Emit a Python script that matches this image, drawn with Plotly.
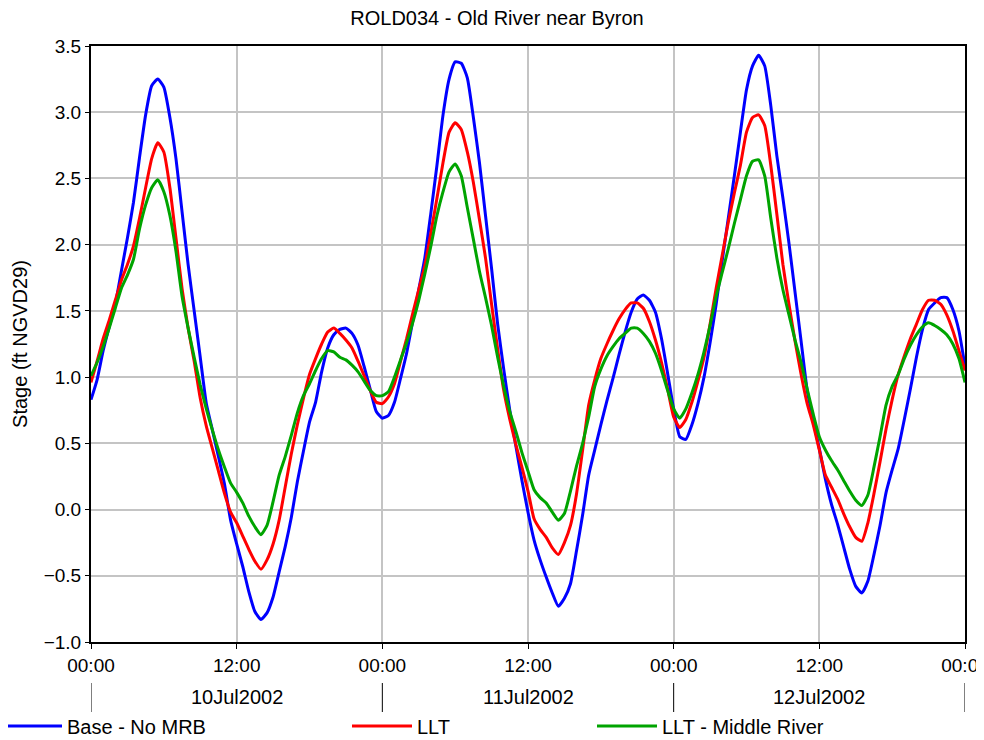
import pandas as pd
import plotly.graph_objects as go

# ---- data (half-hourly stage, ft NGVD29) ----
start_time = "2002-07-10 00:00"
hours = [i * 0.5 for i in range(145)]

base_no_mrb = [
    0.83, 0.98, 1.20, 1.38, 1.55, 1.80, 2.05, 2.32, 2.66, 2.98,
    3.20, 3.25, 3.19, 2.96, 2.65, 2.25, 1.85, 1.50, 1.15, 0.80,
    0.60, 0.40, 0.19, -0.08, -0.26, -0.43, -0.62, -0.77, -0.83, -0.78,
    -0.66, -0.47, -0.28, -0.06, 0.21, 0.44, 0.66, 0.81, 1.04, 1.22,
    1.32, 1.36, 1.37, 1.33, 1.24, 1.08, 0.91, 0.74, 0.69, 0.71,
    0.81, 0.99, 1.18, 1.42, 1.66, 1.90, 2.24, 2.60, 2.98, 3.25,
    3.38, 3.37, 3.26, 2.96, 2.62, 2.22, 1.82, 1.40, 1.06, 0.75,
    0.48, 0.22, -0.02, -0.23, -0.38, -0.51, -0.63, -0.73, -0.67, -0.56,
    -0.31, -0.04, 0.26, 0.45, 0.64, 0.82, 0.99, 1.17, 1.34, 1.49,
    1.59, 1.62, 1.58, 1.49, 1.29, 1.03, 0.76, 0.55, 0.53, 0.64,
    0.80, 1.00, 1.26, 1.55, 1.88, 2.20, 2.52, 2.85, 3.17, 3.35,
    3.43, 3.35, 3.05, 2.67, 2.35, 2.01, 1.64, 1.27, 0.90, 0.67,
    0.46, 0.23, 0.04, -0.11, -0.28, -0.45, -0.58, -0.63, -0.54, -0.34,
    -0.12, 0.13, 0.30, 0.46, 0.68, 0.91, 1.15, 1.36, 1.51, 1.56,
    1.60, 1.60, 1.51, 1.35, 1.08,
]

llt = [
    0.96, 1.12, 1.29, 1.43, 1.58, 1.73, 1.85, 1.99, 2.20, 2.43,
    2.65, 2.77, 2.70, 2.43, 2.05, 1.67, 1.37, 1.12, 0.84, 0.63,
    0.46, 0.29, 0.12, -0.02, -0.10, -0.20, -0.30, -0.39, -0.45, -0.38,
    -0.26, -0.08, 0.17, 0.42, 0.64, 0.84, 1.02, 1.14, 1.25, 1.34,
    1.37, 1.33, 1.28, 1.22, 1.12, 1.01, 0.90, 0.81, 0.80, 0.85,
    0.95, 1.12, 1.29, 1.48, 1.66, 1.84, 2.09, 2.35, 2.62, 2.85,
    2.92, 2.87, 2.70, 2.47, 2.19, 1.90, 1.55, 1.21, 0.90, 0.68,
    0.49, 0.32, 0.14, -0.07, -0.15, -0.21, -0.29, -0.34, -0.25, -0.12,
    0.12, 0.45, 0.79, 0.98, 1.14, 1.25, 1.35, 1.44, 1.51, 1.56,
    1.56, 1.52, 1.42, 1.28, 1.11, 0.91, 0.70, 0.62, 0.68, 0.81,
    0.97, 1.15, 1.40, 1.67, 1.92, 2.17, 2.39, 2.60, 2.85, 2.96,
    2.98, 2.90, 2.60, 2.23, 1.85, 1.55, 1.27, 1.02, 0.80, 0.64,
    0.45, 0.26, 0.17, 0.08, -0.03, -0.13, -0.21, -0.24, -0.10, 0.12,
    0.36, 0.61, 0.83, 1.02, 1.16, 1.29, 1.40, 1.51, 1.58, 1.58,
    1.55, 1.47, 1.35, 1.20, 1.05,
]

llt_middle_river = [
    1.01, 1.11, 1.23, 1.37, 1.52, 1.67, 1.77, 1.89, 2.12, 2.30,
    2.43, 2.49, 2.40, 2.22, 1.95, 1.61, 1.37, 1.15, 0.94, 0.76,
    0.60, 0.45, 0.32, 0.20, 0.13, 0.05, -0.05, -0.13, -0.19, -0.12,
    0.06, 0.26, 0.40, 0.56, 0.73, 0.86, 0.95, 1.05, 1.14, 1.20,
    1.19, 1.15, 1.13, 1.09, 1.04, 0.97, 0.90, 0.86, 0.86, 0.89,
    1.00, 1.13, 1.26, 1.41, 1.58, 1.78, 1.99, 2.22, 2.40, 2.55,
    2.61, 2.52, 2.28, 2.04, 1.80, 1.60, 1.39, 1.15, 0.93, 0.74,
    0.59, 0.43, 0.29, 0.15, 0.09, 0.05, -0.02, -0.08, -0.03, 0.14,
    0.33, 0.50, 0.70, 0.93, 1.06, 1.16, 1.23, 1.29, 1.33, 1.37,
    1.37, 1.33, 1.27, 1.18, 1.05, 0.90, 0.76, 0.69, 0.76, 0.88,
    1.02, 1.19, 1.39, 1.61, 1.79, 1.97, 2.16, 2.34, 2.52, 2.63,
    2.64, 2.52, 2.20, 1.90, 1.66, 1.47, 1.28, 1.11, 0.91, 0.72,
    0.55, 0.45, 0.37, 0.30, 0.22, 0.14, 0.07, 0.03, 0.11, 0.32,
    0.55, 0.79, 0.93, 1.02, 1.14, 1.24, 1.32, 1.38, 1.41, 1.39,
    1.36, 1.32, 1.25, 1.14, 0.96,
]

series_names = ["Base - No MRB", "LLT", "LLT - Middle River"]
series_colors = ["#0000ff", "#ff0000", "#00a400"]
day_labels = ["10Jul2002", "11Jul2002", "12Jul2002"]
day_starts = ["2002-07-10", "2002-07-11", "2002-07-12", "2002-07-13"]
day_mids = ["2002-07-10 12:00", "2002-07-11 12:00", "2002-07-12 12:00"]

t0 = pd.Timestamp(start_time)
times = [t0 + pd.Timedelta(hours=h) for h in hours]

FONT = "Arial, Liberation Sans, sans-serif"

fig = go.Figure()
legend_ids = ["legend", "legend2", "legend3"]
for name, vals, col, lg in zip(series_names, [base_no_mrb, llt, llt_middle_river],
                               series_colors, legend_ids):
    fig.add_trace(go.Scatter(
        x=times, y=vals, mode="lines", name=name, legend=lg,
        line=dict(color=col, width=3, shape="spline", smoothing=0.5),
    ))

# The page body adds an 8px offset, so the figure is 976x732 and the
# target plot area (window px 91..965 x 46..642) is expressed in figure px.
OFF = 8
W, H = 984 - OFF, 740 - OFF
L, R, T, B = 91 - OFF, 19, 46 - OFF, 98
pw, ph = W - L - R, H - T - B


def px2x(px):  # window px -> x paper
    return (px - OFF - L) / pw


def py2y(py):  # window px -> y paper
    return (H - B - (py - OFF)) / ph


legend_pos = [-3, 347, 592]
legend_common = dict(orientation="h", xanchor="left", yanchor="middle",
                     y=py2y(726), bgcolor="rgba(0,0,0,0)",
                     font=dict(family=FONT, size=20, color="black"),
                     itemwidth=60, tracegroupgap=0)
legends = {}
for lg, xp in zip(legend_ids, legend_pos):
    legends[lg] = dict(x=px2x(xp), **legend_common)

shapes = []
for d in day_starts:
    shapes.append(dict(type="line", xref="x", yref="paper", x0=d, x1=d,
                       y0=py2y(683), y1=py2y(712),
                       line=dict(color="black", width=1)))

annotations = []
for lab, m in zip(day_labels, day_mids):
    annotations.append(dict(x=m, y=py2y(697), xref="x", yref="paper", text=lab,
                            showarrow=False, xanchor="center", yanchor="middle",
                            font=dict(family=FONT, size=20, color="black")))

fig.update_layout(
    width=W, height=H,
    margin=dict(l=L, r=R, t=T, b=B, pad=0, autoexpand=False),
    paper_bgcolor="white", plot_bgcolor="white",
    title=dict(text="ROLD034 - Old River near Byron",
               x=(497 - OFF) / W, xanchor="center",
               y=1 - (18 - OFF) / H, yanchor="middle",
               font=dict(family=FONT, size=20, color="black")),
    showlegend=True,
    shapes=shapes,
    annotations=annotations,
    **legends,
)

fig.update_xaxes(
    type="date",
    range=["2002-07-10 00:00", "2002-07-13 00:00"],
    dtick=12 * 3600 * 1000, tick0="2002-07-10 00:00",
    tickformat="%H:%M", ticklabeloverflow="allow",
    showgrid=True, gridcolor="#c4c4c4", gridwidth=2,
    showline=True, linecolor="black", linewidth=2, mirror=True,
    ticks="outside", ticklen=5, tickcolor="black", tickwidth=1,
    tickfont=dict(family=FONT, size=19, color="black"),
    zeroline=False, automargin=False,
)
fig.update_yaxes(
    range=[-1.0, 3.5], dtick=0.5, tick0=0, tickformat=".1f",
    showgrid=True, gridcolor="#c4c4c4", gridwidth=2,
    showline=True, linecolor="black", linewidth=2, mirror=True,
    ticks="outside", ticklen=4, tickcolor="black", tickwidth=1,
    tickfont=dict(family=FONT, size=19, color="black"),
    title=dict(text="Stage (ft NGVD29)", standoff=11,
               font=dict(family=FONT, size=20, color="black")),
    zeroline=False, automargin=False,
)

fig.write_html("out.html")
